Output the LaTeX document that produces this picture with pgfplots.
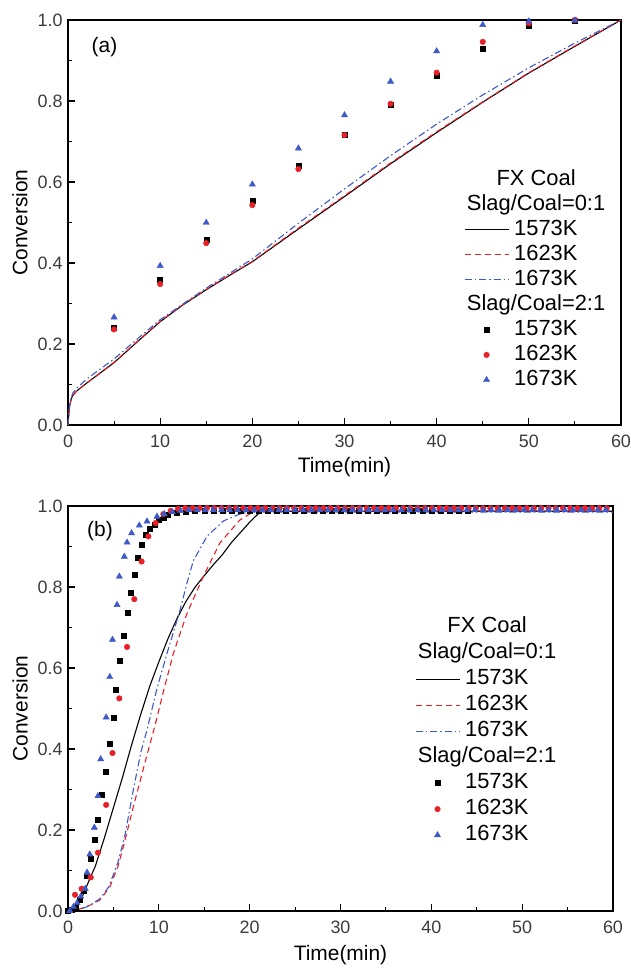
\documentclass[border=0pt]{standalone}
\usepackage{pgfplots}
\pgfplotsset{compat=1.18}
\usepackage{fontspec}
\setmainfont{Liberation Sans}
\definecolor{cred}{RGB}{232,32,40}
\definecolor{cblue}{RGB}{62,90,200}
\definecolor{ctick}{RGB}{60,60,60}
\newcommand\hd[1]{\hspace*{22bp}\makebox[0pt][c]{#1}}
\pgfplotsset{
 myax/.style={
  scale only axis, xmin=0, xmax=60, ymin=0, ymax=1,
  xtick={0,10,20,30,40,50,60}, ytick={0,0.2,0.4,0.6,0.8,1.0},
  minor x tick num=1, minor y tick num=1,
  tick pos=left, tick align=inside,
  major tick length=7bp, minor tick length=4bp,
  axis line style={line width=1.3bp},
  every tick/.style={line width=1.1bp, black},
  ticklabel style={font=\fontsize{18}{20}\selectfont, text=ctick},
  /pgf/number format/assume math mode=true,
  xticklabel style={yshift=-6bp},
  yticklabel style={xshift=-2bp, /pgf/number format/.cd, fixed, fixed zerofill, precision=1},
  xlabel={Time(min)}, ylabel={Conversion},
  label style={font=\fontsize{21}{24}\selectfont},
  clip=false,
  legend style={draw=none, fill=none, font=\fontsize{22}{25}\selectfont,
    inner sep=0pt, outer sep=0pt, row sep=0pt, column sep=3bp,
    cells={anchor=west},
    nodes={inner xsep=2bp, inner ysep=3bp, text height=15bp, text depth=4bp}},
 },
 lg/.style={legend image code/.code={\draw[mark repeat=2,mark phase=2,##1] plot coordinates {(0bp,0bp)(22bp,0bp)(44bp,0bp)};}},
 sq/.style={only marks, mark=square*, mark size=2.5bp, black, lg},
 ci/.style={only marks, mark=*, mark size=2.8bp, cred, lg},
 tr/.style={only marks, mark=triangle*, mark size=3.6bp, cblue, lg},
 l1/.style={black, line width=1.1bp, no marks, lg},
 l2/.style={cred, line width=1.1bp, no marks, dash pattern=on 6bp off 4bp, lg},
 l3/.style={cblue, line width=1.1bp, no marks, dash pattern=on 7bp off 3bp on 1.5bp off 3bp, lg},
}
\begin{document}
\begin{tikzpicture}
\useasboundingbox (0,0) rectangle (631bp,969bp);
% ---------------- panel (a)
\begin{axis}[myax, at={(68bp,544bp)}, anchor=south west, width=553bp, height=405bp,
  ylabel style={at={(axis description cs:-0.087,0.5)}, anchor=center},
  xlabel style={at={(axis description cs:0.5,-0.104)}, anchor=center},
  legend style={at={(axis cs:42.97,0.636)}, anchor=north west}]
\addlegendimage{empty legend}\addlegendentry{\hd{FX Coal}}
\addlegendimage{empty legend}\addlegendentry{\hd{Slag/Coal=0:1}}
\addplot[l1] coordinates {(0,0)(0.1,0.03)(0.2,0.05)(0.35,0.064)(0.5,0.072)(0.75,0.079)(1,0.085)(1.5,0.094)(2,0.103)(3,0.12)(4,0.137)(5,0.154)(7.5,0.205)(10,0.255)(12.5,0.297)(15,0.334)(17.5,0.369)(20,0.403)(25,0.484)(30,0.564)(35,0.645)(40,0.722)(45,0.797)(50,0.869)(55,0.935)(60,1.0)};
\addlegendentry{1573K}
\addplot[l2] coordinates {(0,0)(0.1,0.03)(0.2,0.05)(0.35,0.064)(0.5,0.072)(0.75,0.079)(1,0.085)(1.5,0.094)(2,0.103)(3,0.12)(4,0.137)(5,0.155)(7.5,0.206)(10,0.256)(12.5,0.298)(15,0.335)(17.5,0.37)(20,0.404)(25,0.486)(30,0.566)(35,0.647)(40,0.724)(45,0.798)(50,0.87)(55,0.936)(60,1.0)};
\addlegendentry{1623K}
\addplot[l3] coordinates {(0,0)(0.1,0.035)(0.2,0.055)(0.5,0.078)(1,0.092)(2,0.113)(3,0.13)(5,0.163)(7.5,0.212)(10,0.26)(15,0.338)(20,0.41)(25,0.498)(30,0.583)(35,0.665)(40,0.743)(45,0.815)(50,0.882)(55,0.943)(60,1.0)};
\addlegendentry{1673K}
\addlegendimage{empty legend}\addlegendentry{\hd{Slag/Coal=2:1}}
\addplot[sq] coordinates {(5,0.241)(10,0.358)(15,0.458)(20,0.553)(25,0.640)(30,0.717)(35,0.79)(40,0.863)(45,0.928)(50,0.986)(55,0.999)};
\addlegendentry{1573K}
\addplot[ci] coordinates {(5,0.236)(10,0.348)(15,0.449)(20,0.543)(25,0.632)(30,0.716)(35,0.793)(40,0.870)(45,0.946)(50,0.992)(55,1.0)};
\addlegendentry{1623K}
\addplot[tr] coordinates {(5,0.266)(10,0.393)(15,0.4995)(20,0.594)(25,0.683)(30,0.765)(35,0.848)(40,0.923)(45,0.988)(50,0.997)(55,0.999)};
\addlegendentry{1673K}
\node[font=\fontsize{21}{24}\selectfont] at (axis cs:3.96,0.933) {(a)};
\end{axis}
% ---------------- panel (b)
\begin{axis}[myax, at={(68bp,58bp)}, anchor=south west, width=545bp, height=405bp,
  ylabel style={at={(axis description cs:-0.088,0.5)}, anchor=center},
  xlabel style={at={(axis description cs:0.5,-0.108)}, anchor=center},
  legend style={at={(axis cs:38.2,0.733)}, anchor=north west,
    nodes={text height=15.5bp, text depth=4.5bp}}]
\addlegendimage{empty legend}\addlegendentry{\hd{FX Coal}}
\addlegendimage{empty legend}\addlegendentry{\hd{Slag/Coal=0:1}}
\addplot[l1] coordinates {(0,0)(0.5,0.005)(1,0.015)(1.5,0.032)(2,0.058)(2.5,0.085)(3,0.11)(3.5,0.145)(4,0.18)(5,0.255)(6,0.33)(7,0.41)(8,0.485)(9,0.555)(10,0.615)(11,0.672)(12,0.722)(13,0.765)(14,0.8)(15,0.828)(16,0.855)(17,0.88)(18,0.91)(19,0.935)(20,0.96)(21,0.982)(21.5,0.987)(60,0.987)};
\addlegendentry{1573K}
\addplot[l2] coordinates {(0,0)(1,0.003)(1.7,0.008)(2.5,0.015)(3.5,0.027)(4.6,0.059)(5.5,0.11)(6.1,0.159)(7.2,0.258)(8.4,0.36)(9.6,0.46)(10.6,0.55)(11.6,0.636)(13.1,0.735)(14.9,0.826)(16.7,0.908)(18.9,0.965)(20.4,0.986)(21,0.988)(60,0.988)};
\addlegendentry{1623K}
\addplot[l3] coordinates {(0,0)(1,0.003)(1.8,0.008)(2.5,0.015)(3.5,0.03)(4.5,0.06)(5.5,0.12)(6.3,0.19)(7.2,0.3)(8,0.39)(8.7,0.447)(9.8,0.55)(10.9,0.636)(12.3,0.74)(13.1,0.81)(13.8,0.865)(15.3,0.925)(17.1,0.963)(18.9,0.98)(20,0.985)(60,0.985)};
\addlegendentry{1673K}
\addlegendimage{empty legend}\addlegendentry{\hd{Slag/Coal=2:1}}
\addplot[sq] coordinates {(0,0)(0.4,0.003)(0.8,0.01)(1.3,0.027)(1.7,0.05)(2.1,0.087)(2.5,0.128)(2.9,0.177)(3.3,0.226)(3.7,0.286)(4.1,0.345)(4.6,0.412)(5.0,0.478)(5.3,0.547)(5.7,0.618)(6.1,0.68)(6.6,0.736)(6.9,0.787)(7.3,0.831)(7.7,0.872)(8.1,0.904)(8.5,0.93)(9.0,0.943)(9.5,0.955)(10,0.965)(10.5,0.972)(11,0.978)(12,0.983)(13,0.986)(14,0.988)(15,0.988)(16,0.988)(17,0.988)(18,0.988)(19,0.988)(20,0.988)(21,0.988)(22,0.988)(23,0.988)(24,0.988)(25,0.988)(26,0.988)(27,0.988)(28,0.988)(29,0.988)(30,0.988)(31,0.988)(32,0.988)(33,0.988)(34,0.988)(35,0.988)(36,0.988)(37,0.988)(38,0.988)(39,0.988)(40,0.988)(41,0.988)(42,0.988)(43,0.988)(44,0.988)};
\addlegendentry{1573K}
\addplot[ci] coordinates {(0.77,0.04)(1.5,0.055)(2.5,0.083)(3.3,0.144)(4.2,0.262)(4.9,0.39)(5.65,0.525)(6.5,0.652)(7.3,0.77)(8.1,0.863)(8.85,0.925)(9.65,0.958)(10.5,0.98)(11.3,0.988)(12.1,0.993)(12.9,0.995)(13.7,0.995)(14.5,0.995)(15.3,0.995)(16.1,0.995)(16.9,0.995)(17.7,0.995)(18.5,0.995)(19.3,0.995)(20.1,0.995)(20.9,0.995)(21.7,0.995)(22.5,0.995)(23.3,0.995)(24.1,0.995)(24.9,0.995)(25.7,0.995)(26.5,0.995)(27.3,0.995)(28.1,0.995)(28.9,0.995)(29.7,0.995)(30.5,0.995)(31.3,0.995)(32.1,0.995)(32.9,0.995)(33.7,0.995)(34.5,0.995)(35.3,0.995)(36.1,0.995)(36.9,0.995)(37.7,0.995)(38.5,0.995)(39.3,0.995)(40.1,0.995)(40.9,0.995)(41.7,0.995)(42.5,0.995)(43.3,0.995)(44.1,0.995)(44.9,0.995)(45.7,0.995)(46.5,0.995)(47.3,0.995)(48.1,0.995)(48.9,0.995)(49.7,0.995)(50.5,0.995)(51.3,0.995)(52.1,0.995)(52.9,0.995)(53.7,0.995)(54.5,0.995)(55.3,0.995)(56.1,0.995)(56.9,0.995)(57.7,0.995)(58.5,0.995)(59.3,0.995)};
\addlegendentry{1623K}
\addplot[tr] coordinates {(0.2,0.0)(0.6,0.01)(1.0,0.02)(1.4,0.036)(1.9,0.055)(2.1,0.095)(2.4,0.14)(2.9,0.206)(3.3,0.284)(3.6,0.375)(4.2,0.478)(4.6,0.578)(4.9,0.67)(5.4,0.756)(5.65,0.826)(6.2,0.875)(6.5,0.91)(7.0,0.933)(7.85,0.952)(8.7,0.962)(9.8,0.974)(10.6,0.98)(11.5,0.985)(12.4,0.988)(13.3,0.99)(14.2,0.99)(15.1,0.99)(16,0.99)(16.9,0.99)(17.8,0.99)(18.7,0.99)(19.6,0.99)(20.5,0.99)(21.4,0.99)(22.3,0.99)(23.2,0.99)(24.1,0.99)(25,0.99)(25.9,0.99)(26.8,0.99)(27.7,0.99)(28.6,0.99)(29.5,0.99)(30.4,0.99)(31.3,0.99)(32.2,0.99)(33.1,0.99)(34,0.99)(34.9,0.99)(35.8,0.99)(36.7,0.99)(37.6,0.99)(38.5,0.99)(39.4,0.99)(40.3,0.99)(41.2,0.99)(42.1,0.99)(43,0.99)(43.9,0.99)(44.8,0.99)(45.7,0.99)(46.6,0.99)(47.5,0.99)(48.4,0.99)(49.3,0.99)(50.2,0.99)(51.1,0.99)(52,0.99)(52.9,0.99)(53.8,0.99)(54.7,0.99)(55.6,0.99)(56.5,0.99)(57.4,0.99)(58.3,0.99)(59.2,0.99)};
\addlegendentry{1673K}
\node[font=\fontsize{21}{24}\selectfont] at (axis cs:3.52,0.937) {(b)};
\end{axis}
\end{tikzpicture}
\end{document}
